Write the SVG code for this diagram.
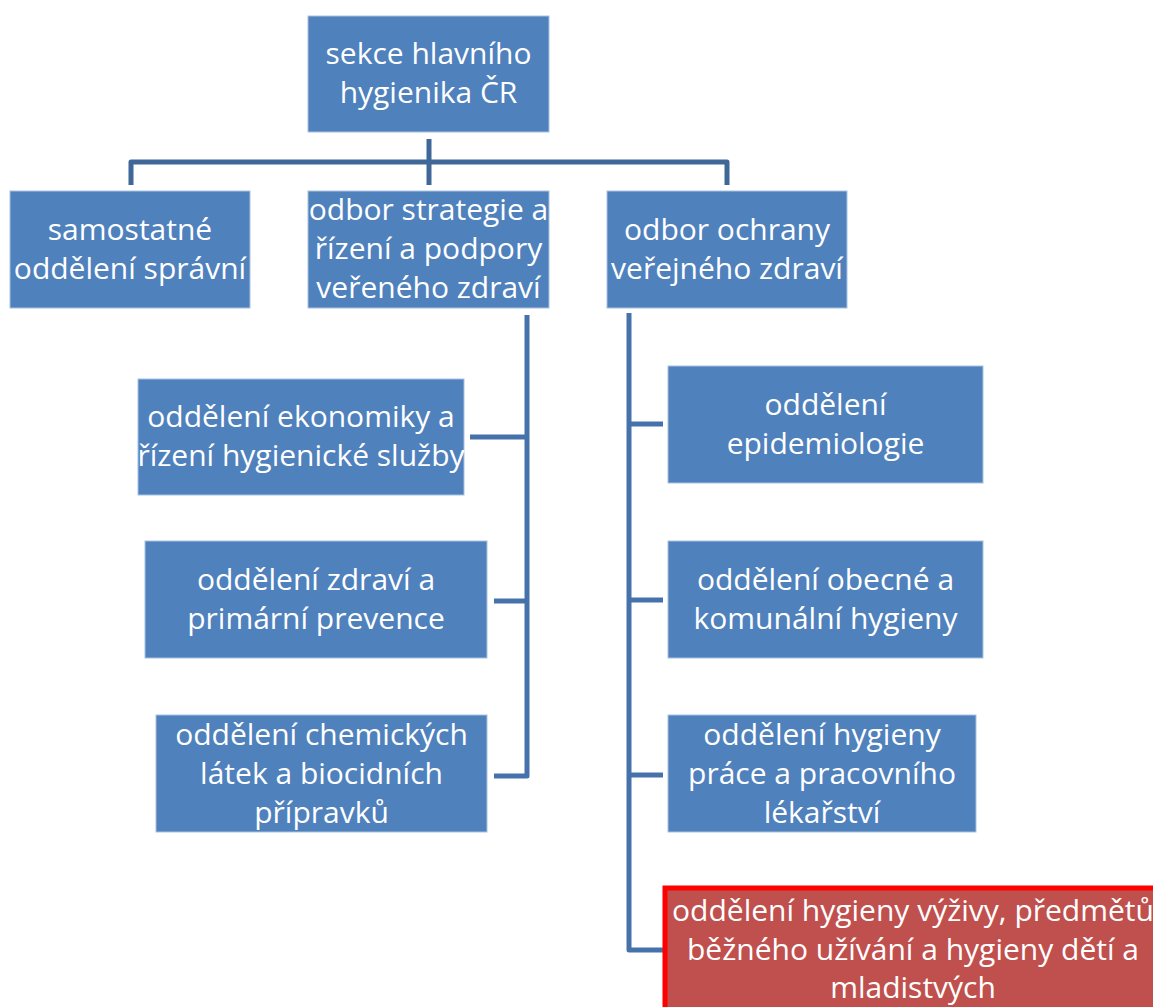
<svg xmlns="http://www.w3.org/2000/svg" width="1153" height="1007" viewBox="0 0 1153 1007">
<style>
.box{fill:#4f81bd;stroke:#a9c1e0;stroke-width:1}
.red{fill:#c0504d;stroke:#ff0000;stroke-width:5}
.t{font-family:"Open Sans","Noto Sans","Liberation Sans",sans-serif;font-size:30px;fill:#ffffff;text-anchor:middle}
.c{fill:none;stroke:#4672ab;stroke-width:5;stroke-linejoin:round}
.c.top{stroke:#3f6898}
</style>
<rect width="1153" height="1007" fill="#ffffff"/>
<g id="connectors">
<path class="c top" d="M429 139 V185"/>
<path class="c top" d="M131 185 V162 H727 V185"/>
<path class="c" d="M527 315 V776 H494"/>
<path class="c" d="M470 437 H527"/>
<path class="c" d="M494 601 H527"/>
<path class="c" d="M629 313 V950 H664"/>
<path class="c" d="M629 424 H663"/>
<path class="c" d="M629 600 H663"/>
<path class="c" d="M629 775 H663"/>
</g>
<g id="n-sekce">
<rect class="box" x="308" y="16" width="241" height="116"/>
<text class="t" x="428.5" y="64">sekce hlavního</text>
<text class="t" x="428.5" y="103">hygienika ČR</text>
</g>
<g id="n-spravni">
<rect class="box" x="10" y="191" width="240" height="117"/>
<text class="t" x="130" y="240">samostatné</text>
<text class="t" x="130" y="279">oddělení správní</text>
</g>
<g id="n-strategie">
<rect class="box" x="308" y="191" width="241" height="117"/>
<text class="t" x="428.5" y="220">odbor strategie a</text>
<text class="t" x="428.5" y="259">řízení a podpory</text>
<text class="t" x="428.5" y="298">veřeného zdraví</text>
</g>
<g id="n-ochrany">
<rect class="box" x="607" y="191" width="240" height="117"/>
<text class="t" x="727" y="240">odbor ochrany</text>
<text class="t" x="727" y="279">veřejného zdraví</text>
</g>
<g id="n-ekonomiky">
<rect class="box" x="138" y="379" width="326" height="116"/>
<text class="t" x="301" y="427">oddělení ekonomiky a</text>
<text class="t" x="301" y="466">řízení hygienické služby</text>
</g>
<g id="n-zdravi">
<rect class="box" x="145" y="541" width="342" height="117"/>
<text class="t" x="316" y="590">oddělení zdraví a</text>
<text class="t" x="316" y="629">primární prevence</text>
</g>
<g id="n-chemickych">
<rect class="box" x="156" y="715" width="331" height="117"/>
<text class="t" x="321.5" y="745">oddělení chemických</text>
<text class="t" x="321.5" y="784">látek a biocidních</text>
<text class="t" x="321.5" y="823">přípravků</text>
</g>
<g id="n-epidemiologie">
<rect class="box" x="668" y="366" width="315" height="117"/>
<text class="t" x="825.5" y="415">oddělení</text>
<text class="t" x="825.5" y="454">epidemiologie</text>
</g>
<g id="n-komunalni">
<rect class="box" x="668" y="541" width="315" height="117"/>
<text class="t" x="825.5" y="590">oddělení obecné a</text>
<text class="t" x="825.5" y="629">komunální hygieny</text>
</g>
<g id="n-prace">
<rect class="box" x="668" y="715" width="308" height="117"/>
<text class="t" x="822" y="745">oddělení hygieny</text>
<text class="t" x="822" y="784">práce a pracovního</text>
<text class="t" x="822" y="823">lékařství</text>
</g>
<g id="n-vyzivy">
<rect class="red" x="665" y="888" width="497" height="124"/>
<text class="t" x="913" y="921">oddělení hygieny výživy, předmětů</text>
<text class="t" x="913" y="960">běžného užívání a hygieny dětí a</text>
<text class="t" x="913" y="998">mladistvých</text>
</g>
</svg>
